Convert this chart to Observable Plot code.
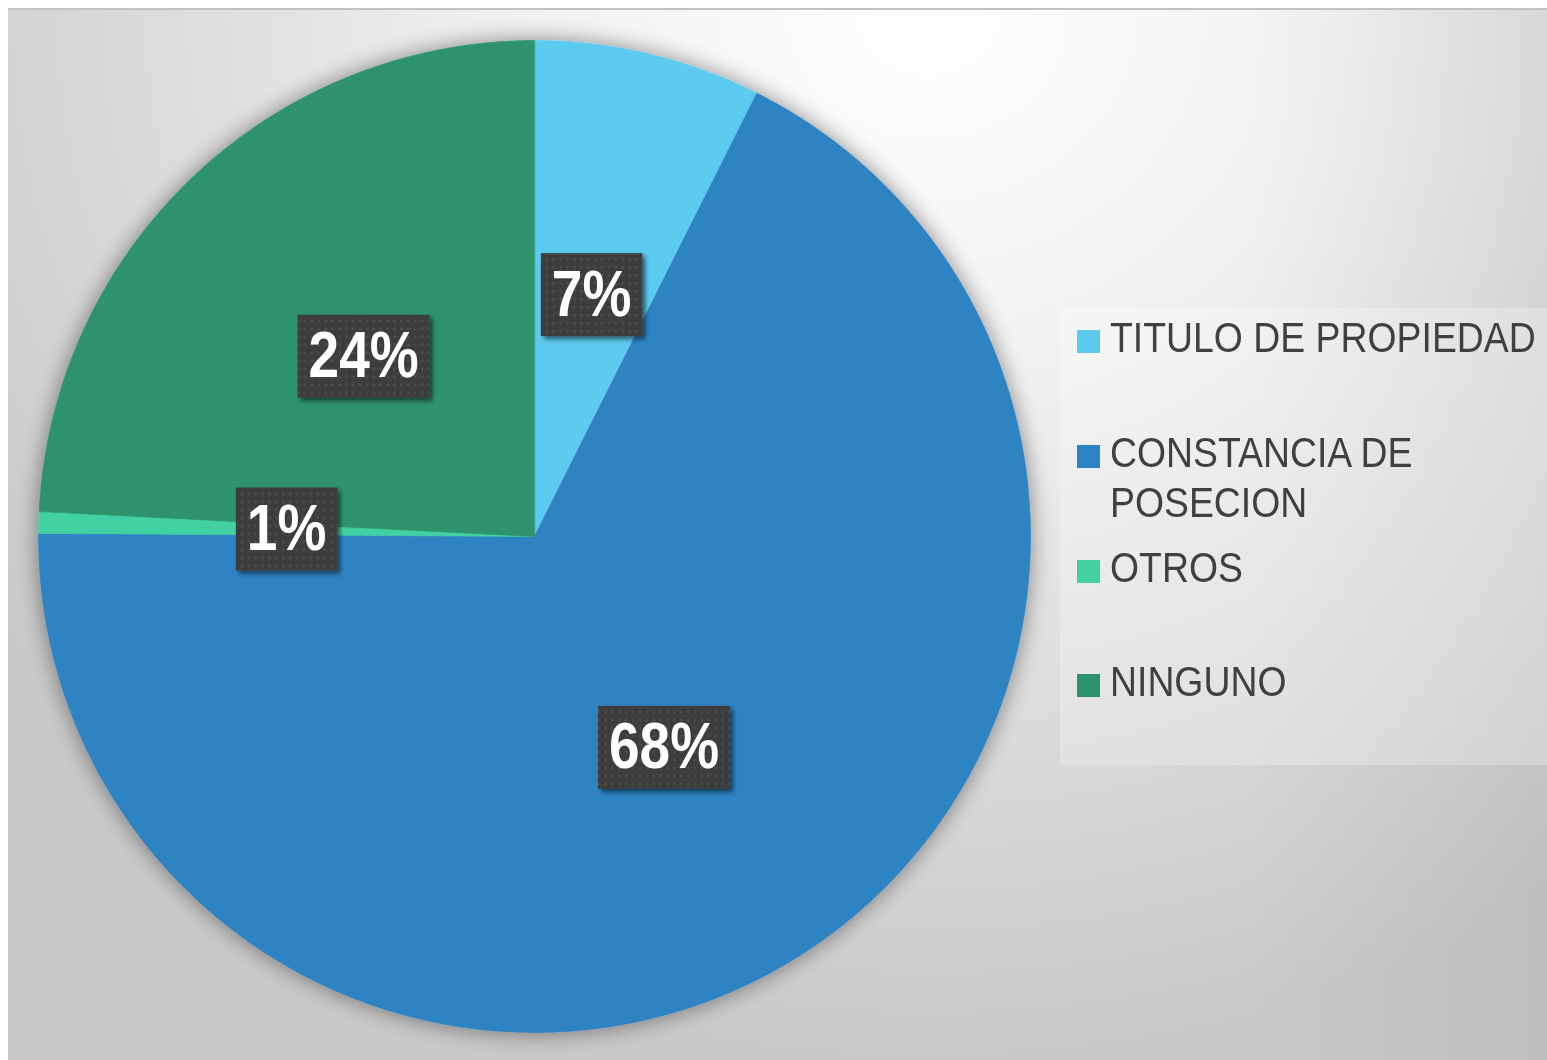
<!DOCTYPE html>
<html>
<head>
<meta charset="utf-8">
<script src="https://cdn.jsdelivr.net/npm/d3@7"></script>
<script src="https://cdn.jsdelivr.net/npm/@observablehq/plot@0.6"></script>
<style>
  html, body { margin: 0; padding: 0; background: #ffffff; }
  #page { position: relative; width: 1547px; height: 1060px; overflow: hidden; background: #ffffff; }
  #bg {
    position: absolute; left: 8px; top: 8px; width: 1539px; height: 1052px;
    border-top: 2px solid #c2c2c2; box-sizing: border-box;
    background:
      linear-gradient(to left, rgba(0,0,0,0.05) 0px, rgba(0,0,0,0) 300px),
      radial-gradient(ellipse 1150px 1050px at 920px 0px, #ffffff 0%, #f1f1f1 35%, #dadada 70%, #c8c8c8 100%);
  }
  #chart { position: absolute; left: 0; top: 0; }
  #legendBox { position: absolute; left: 1060px; top: 308px; width: 487px; height: 457px; background: rgba(255,255,255,0.25); }
  .lg-item { position: absolute; left: 1077px; }
  .lg-sw { position: absolute; left: 0; width: 23px; height: 23px; }
  .lg-tx { position: absolute; left: 33px; top: 0; width: 490px; font-family: "Liberation Sans", "DejaVu Sans", sans-serif;
           font-size: 42px; line-height: 50px; color: #404040; transform: scaleX(0.89); transform-origin: 0 0; white-space: normal; }
</style>
</head>
<body>
<div id="page">
  <div id="bg"></div>
  <div id="legendBox"></div>
  <div id="chart"></div>
  <div id="legend"></div>
</div>
<script>
// ---- data ----
const categories = ["TITULO DE PROPIEDAD", "CONSTANCIA DE POSECION", "OTROS", "NINGUNO"];
const values = [7.4, 67.7, 0.7, 24.2];
const colors = ["#5DCAEF", "#2E83C3", "#43D1A2", "#2E936C"];

// ---- pie geometry through d3.pie (angles from the data) ----
const pie = d3.pie().sort(null).value(d => d.value);
const arcs = pie(categories.map((c, i) => ({category: c, value: values[i]})));
const total = d3.sum(values);

const slicePoints = [];
for (const a of arcs) {
  const cat = a.data.category;
  slicePoints.push({category: cat, x: 0, y: 0});
  const n = Math.max(2, Math.ceil((a.endAngle - a.startAngle) / (Math.PI / 720)));
  for (let k = 0; k <= n; k++) {
    const t = a.startAngle + (a.endAngle - a.startAngle) * k / n;
    slicePoints.push({category: cat, x: Math.sin(t), y: Math.cos(t)});
  }
}

const labelData = arcs.map(a => {
  const m = (a.startAngle + a.endAngle) / 2;
  return {
    category: a.data.category,
    x: 0.5 * Math.sin(m),
    y: 0.5 * Math.cos(m),
    text: d3.format(".0%")(a.data.value / total)
  };
});

const plot = Plot.plot({
  width: 1068,
  height: 1060,
  marginLeft: 38,
  marginRight: 38,
  marginTop: 40,
  marginBottom: 28,
  x: {domain: [-1, 1], axis: null},
  y: {domain: [-1, 1], axis: null},
  color: {domain: categories, range: colors},
  style: {background: "transparent", overflow: "visible"},
  marks: [
    Plot.line(slicePoints, {
      x: "x", y: "y", z: "category",
      fill: "category", stroke: "category", strokeWidth: 0.6,
      curve: "linear-closed"
    }),
    Plot.text(labelData, {
      x: "x", y: "y", text: "text",
      fill: "white",
      fontSize: 64,
      fontWeight: "bold",
      fontFamily: "'Liberation Sans', 'DejaVu Sans', sans-serif"
    })
  ]
});

document.getElementById("chart").appendChild(plot);

// ---- defs: shadows and dotted label texture ----
const ns = "http://www.w3.org/2000/svg";
const defs = document.createElementNS(ns, "defs");
defs.innerHTML = `
  <filter id="pieShadow" x="-10%" y="-10%" width="120%" height="120%">
    <feGaussianBlur in="SourceAlpha" stdDeviation="11"/>
    <feComponentTransfer><feFuncA type="linear" slope="0.45"/></feComponentTransfer>
    <feMerge><feMergeNode/><feMergeNode in="SourceGraphic"/></feMerge>
  </filter>
  <filter id="boxShadow" x="-20%" y="-20%" width="150%" height="150%">
    <feGaussianBlur in="SourceAlpha" stdDeviation="2.5"/>
    <feOffset dx="3" dy="3" result="o"/>
    <feComponentTransfer><feFuncA type="linear" slope="0.55"/></feComponentTransfer>
    <feMerge><feMergeNode/><feMergeNode in="SourceGraphic"/></feMerge>
  </filter>
  <pattern id="dots" width="8" height="8" patternUnits="userSpaceOnUse">
    <rect width="8" height="8" fill="#3d3d3d"/>
    <circle cx="4" cy="4" r="1.6" fill="#4e4e4e"/>
  </pattern>`;
plot.insertBefore(defs, plot.firstChild);

const lineG = plot.querySelector('g[aria-label="line"]');
if (lineG) lineG.setAttribute("filter", "url(#pieShadow)");

// label boxes sized from the rendered text; text condensed horizontally
const SX = 0.86;
const textG = plot.querySelector('g[aria-label="text"]');
if (textG) {
  textG.querySelectorAll("text").forEach(t => {
    const bb = t.getBBox();
    const cx = bb.x + bb.width / 2;
    const cy = bb.y + bb.height / 2;
    const tr = t.getAttribute("transform") || "";
    const sc = `${tr} translate(${cx},0) scale(${SX},1) translate(${-cx},0)`;
    t.setAttribute("transform", sc);
    const w = bb.width + 22 / SX;
    const h = 83;
    const r = document.createElementNS(ns, "rect");
    r.setAttribute("x", cx - w / 2);
    r.setAttribute("y", cy - h / 2 + 1);
    r.setAttribute("width", w);
    r.setAttribute("height", h);
    r.setAttribute("fill", "url(#dots)");
    r.setAttribute("filter", "url(#boxShadow)");
    r.setAttribute("transform", sc);
    textG.insertBefore(r, t);
  });
}

// ---- legend (HTML) ----
const baselines = [353, 468, 583, 697];
const legend = document.getElementById("legend");
categories.forEach((c, i) => {
  const item = document.createElement("div");
  item.className = "lg-item";
  item.style.top = (baselines[i] - 39.6) + "px";
  const sw = document.createElement("div");
  sw.className = "lg-sw";
  sw.style.background = colors[i];
  sw.style.top = (39.6 - 23) + "px";
  const tx = document.createElement("div");
  tx.className = "lg-tx";
  tx.textContent = c;
  item.appendChild(sw);
  item.appendChild(tx);
  legend.appendChild(item);
});
</script>
</body>
</html>
